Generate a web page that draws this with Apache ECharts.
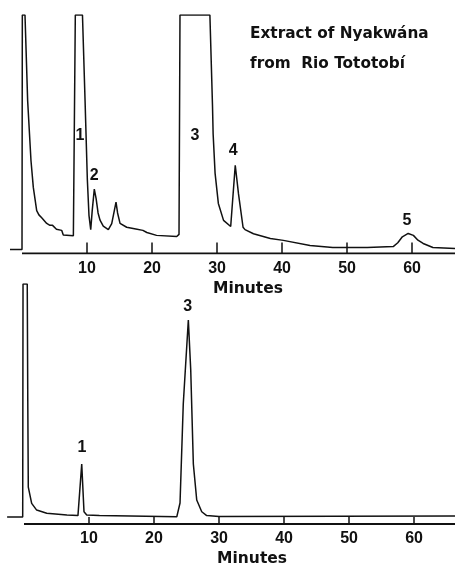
<!DOCTYPE html>
<html>
<head>
<meta charset="utf-8">
<script src="https://cdn.jsdelivr.net/npm/echarts@6/dist/echarts.min.js"></script>
<style>
  html, body { margin: 0; padding: 0; background: #fff; }
  #chart { width: 455px; height: 566px; }
</style>
</head>
<body>
<div id="chart"></div>
<script>
// upper trace: extract of Nyakwana (minutes, relative detector response, 100 = off scale)
var topTime = [-1.85, 0, 0.05, 0.46, 0.87, 1.38, 1.74, 2.26, 2.6, 3.03, 3.8, 4.3, 4.7, 4.85, 5.0, 5.3, 6.1, 6.35, 7.9,
  8.15, 8.2, 9.3, 9.7, 10.05, 10.3, 10.57, 10.8, 11.12, 11.4, 11.7, 12.0, 12.5, 13.28, 13.8, 14.2, 14.46, 14.7, 15.08,
  16.1, 17.5, 18.6, 19.2, 20.7, 23.8, 24.15, 24.3, 28.9, 29.3, 29.4, 29.7, 30.2, 31.0, 32.1, 32.8, 33.3, 34.0, 34.3,
  35.6, 38.2, 40.2, 44.3, 47.8, 53.1, 57.1, 57.8, 58.5, 59.4, 60.2, 60.9, 61.7, 63.2, 66.6];
var topSignal = [1.7, 1.7, 100, 100, 64, 39, 27.7, 18, 16.2, 15, 12.6, 11.8, 11.8, 12.6, 11.2, 10.2, 9.7, 7.8, 7.4,
  7.6, 100, 100, 64, 31, 16, 10, 18, 27, 23, 17, 14, 11.5, 10, 12.5, 18, 21.5, 17, 12.6,
  11, 10.3, 9.7, 8.8, 7.6, 7.1, 8, 100, 100, 62, 50, 33.6, 21, 13.9, 11.3, 37, 25, 11, 10,
  8.3, 6.3, 5.5, 3.4, 2.5, 2.5, 2.9, 4.5, 7.0, 8.4, 7.6, 5.6, 4.2, 2.5, 2.1];
var topPeakNames = ['1', '2', '3', '4', '5'];
var topPeakTime = [8.9, 11.1, 26.6, 32.5, 59.2];
var topPeakLevel = [49.6, 32.8, 49.6, 43.3, 13.9];

// lower trace
var bottomTime = [-2.6, -0.2, -0.15, 0.5, 0.58, 0.66, 1.18, 1.95, 3.5, 6.6, 8.3, 8.88, 9.23, 9.65, 11.6,
  23.5, 24.0, 24.5, 25.28, 25.65, 26.05, 26.57, 27.34, 28.1, 30, 66.3];
var bottomSignal = [2.9, 2.9, 100, 100, 51.7, 15.4, 8.6, 5.8, 4.5, 3.75, 3.5, 25, 5.1, 3.75, 3.5,
  3.0, 8.75, 50, 85, 64, 25, 10, 5.1, 3.5, 3.1, 3.3];
var bottomPeakNames = ['1', '3'];
var bottomPeakTime = [8.9, 25.2];
var bottomPeakLevel = [32, 90.4];

var tickValues = [10, 20, 30, 40, 50, 60];
var topRange = [-2, 66.6];
var bottomRange = [-2.6, 66.3];

function pairs (xs, ys) {
  return xs.map(function (x, i) { return [x, ys[i]] })
}
function peakItems (names, xs, ys) {
  return names.map(function (n, i) { return { name: n, value: [xs[i], ys[i]] } })
}

function xAxisFor (gridIndex, range, tickLen, nameShift) {
  return {
    type: 'value',
    gridIndex: gridIndex,
    min: range[0],
    max: range[1],
    name: 'Minutes',
    nameLocation: 'middle',
    nameGap: 27,
    nameTextStyle: { fontFamily: 'DejaVu Sans', fontWeight: 'bold', fontSize: 15.5, color: '#111', padding: [0, 0, 0, nameShift] },
    axisLine: { show: false },
    axisTick: { show: true, inside: true, length: tickLen, customValues: tickValues, lineStyle: { color: '#111', width: 1.5 } },
    axisLabel: { customValues: tickValues, margin: 7, fontFamily: 'Liberation Sans', fontWeight: 'bold', fontSize: 16, color: '#111' },
    splitLine: { show: false }
  }
}

// the time axis starts at injection (0 min), the trace starts a little before it
function axisBase (xi, range) {
  return {
    type: 'line',
    xAxisIndex: xi,
    yAxisIndex: xi,
    data: [[0, 0], [range[1], 0]],
    showSymbol: false,
    silent: true,
    lineStyle: { color: '#111', width: 2 }
  }
}

function peakSeries (xi, data) {
  return {
    type: 'scatter',
    xAxisIndex: xi,
    yAxisIndex: xi,
    symbolSize: 0.1,
    itemStyle: { color: '#fff', opacity: 1 },
    label: {
      show: true,
      position: 'inside',
      formatter: '{b}',
      fontFamily: 'Liberation Sans',
      fontWeight: 'bold',
      fontSize: 16,
      color: '#111',
      textBorderWidth: 0
    },
    data: data,
    silent: true,
    z: 5
  }
}

var chart = echarts.init(document.getElementById('chart'), null, { renderer: 'canvas' })
var option = {
  animation: false,
  backgroundColor: '#fff',
  grid: [
    { left: 9, top: 15, width: 446, height: 238.5, outerBoundsMode: 'none', containLabel: false },
    { left: 7.1, top: 284, width: 447.9, height: 240, outerBoundsMode: 'none', containLabel: false }
  ],
  xAxis: [xAxisFor(0, topRange, 11, 32), xAxisFor(1, bottomRange, 7, 42)],
  yAxis: [
    { type: 'value', gridIndex: 0, min: 0, max: 100, show: false },
    { type: 'value', gridIndex: 1, min: 0, max: 100, show: false }
  ],
  graphic: [
    { type: 'text', left: 250, top: 27, style: { text: 'Extract of Nyakwána', fontFamily: 'DejaVu Sans', fontWeight: 'bold', fontSize: 15.3, fill: '#111' } },
    { type: 'text', left: 250, top: 57, style: { text: 'from  Rio Tototobí', fontFamily: 'DejaVu Sans', fontWeight: 'bold', fontSize: 15.3, fill: '#111' } }
  ],
  series: [
    axisBase(0, topRange),
    axisBase(1, bottomRange),
    {
      type: 'line',
      xAxisIndex: 0,
      yAxisIndex: 0,
      data: pairs(topTime, topSignal),
      showSymbol: false,
      lineStyle: { color: '#111', width: 1.5 }
    },
    {
      type: 'line',
      xAxisIndex: 1,
      yAxisIndex: 1,
      data: pairs(bottomTime, bottomSignal),
      showSymbol: false,
      lineStyle: { color: '#111', width: 1.5 }
    },
    peakSeries(0, peakItems(topPeakNames, topPeakTime, topPeakLevel)),
    peakSeries(1, peakItems(bottomPeakNames, bottomPeakTime, bottomPeakLevel))
  ]
}
chart.setOption(option)
</script>
</body>
</html>
